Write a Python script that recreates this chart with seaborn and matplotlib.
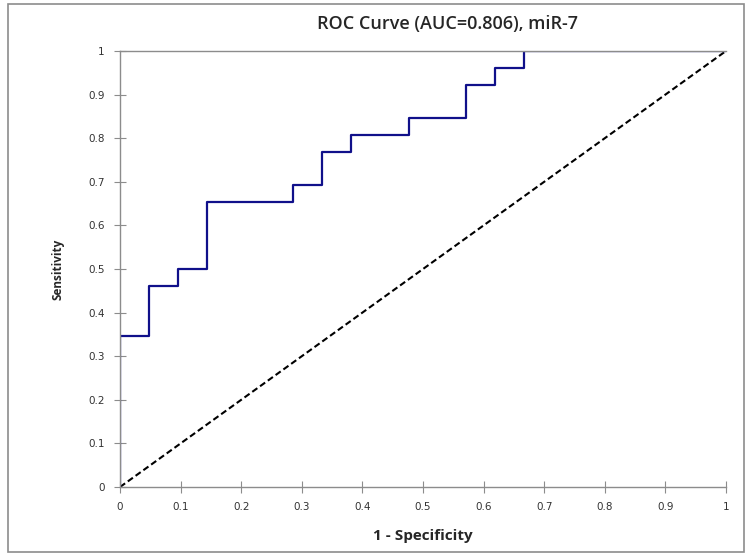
import numpy as np
import pandas as pd
import matplotlib
matplotlib.use('Agg')
import matplotlib.pyplot as plt
import seaborn as sns
from matplotlib.patches import Rectangle

# ROC points (21 negatives, 26 positives)
n_neg = 21
n_pos = 26
fp_counts = [0, 0, 1, 1, 2, 2, 3, 3, 6, 6, 7, 7, 8, 8, 10, 10, 12, 12, 13, 13, 14, 14, 21]
tp_counts = [0, 9, 9, 12, 12, 13, 13, 17, 17, 18, 18, 20, 20, 21, 21, 22, 22, 24, 24, 25, 25, 26, 26]
ref_x = [0, 1]
ref_y = [0, 1]
tick_values = [0, 0.1, 0.2, 0.3, 0.4, 0.5, 0.6, 0.7, 0.8, 0.9, 1]
tick_labels = ['0', '0.1', '0.2', '0.3', '0.4', '0.5', '0.6', '0.7', '0.8', '0.9', '1']

roc_df = pd.DataFrame({
    'fpr': np.array(fp_counts) / n_neg,
    'tpr': np.array(tp_counts) / n_pos,
})
ref_df = pd.DataFrame({'x': ref_x, 'y': ref_y})

sns.set_style('white')
plt.rcParams['font.family'] = ['Open Sans', 'DejaVu Sans']

fig = plt.figure(figsize=(7.46, 5.59), dpi=100)
ax = fig.add_axes([0.1609, 0.1288, 0.8123, 0.78])

sns.lineplot(data=ref_df, x='x', y='y', ax=ax, color='black', linewidth=1.5,
             linestyle=(0, (3, 1.6)), sort=False, estimator=None)
sns.lineplot(data=roc_df, x='fpr', y='tpr', ax=ax, color='#10108a', linewidth=1.6,
             sort=False, estimator=None)

ax.set_xlim(0, 1)
ax.set_ylim(0, 1)
ax.set_xticks(tick_values)
ax.set_xticklabels(tick_labels, family='DejaVu Sans')
ax.set_yticks(tick_values)
ax.set_yticklabels(tick_labels, family='DejaVu Sans')
ax.tick_params(axis='both', direction='inout', length=8, width=0.8, color='#8c8c8c',
               labelsize=7.5, labelcolor='#333333', pad=7, bottom=True, left=True)

for side in ['left', 'bottom', 'top']:
    ax.spines[side].set_color('#8c8c8c')
    ax.spines[side].set_linewidth(1.0)
ax.spines['right'].set_visible(False)

ax.set_xlabel('1 - Specificity', fontsize=11, fontweight='bold', labelpad=12)
ax.set_ylabel('Sensitivity', fontsize=8.5, fontweight='bold', labelpad=17)
fig.text(0.6, 0.957, 'ROC Curve (AUC=0.806), miR-7', fontsize=13, fontweight='semibold',
         ha='center', va='center')

# outer chart border
fig.patches.append(Rectangle((0.011, 0.012), 0.986, 0.98, transform=fig.transFigure,
                             fill=False, edgecolor='#8c8c8c', linewidth=1.2))

fig.savefig('out.png', dpi=100)
